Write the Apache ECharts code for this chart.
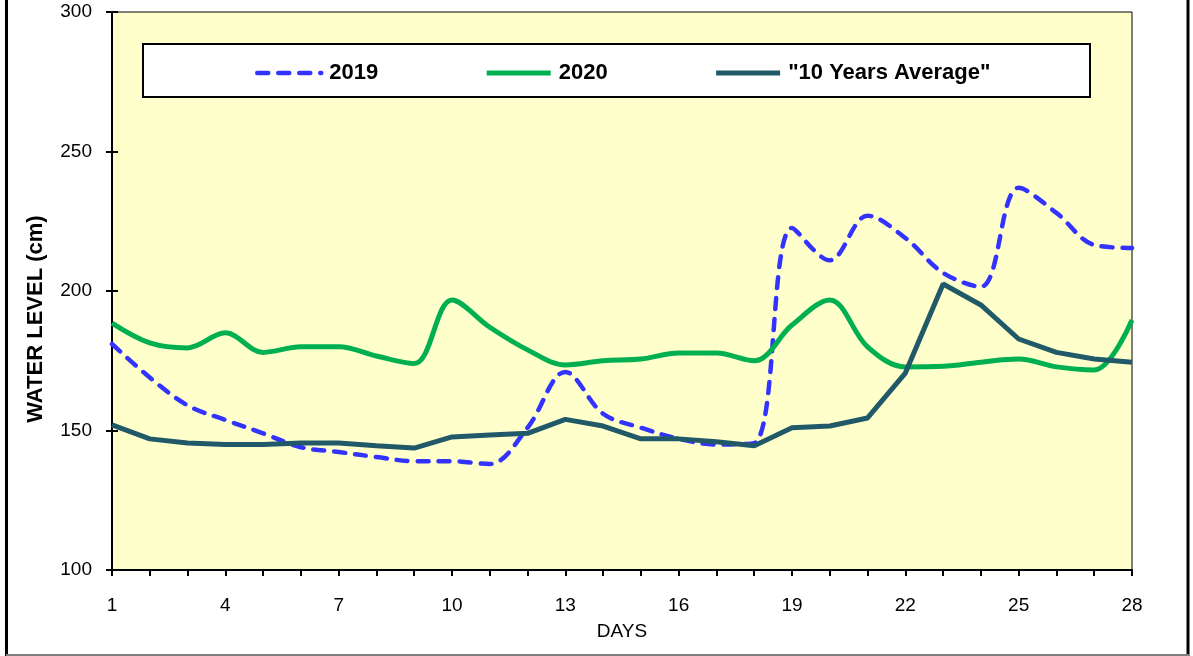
<!DOCTYPE html>
<html>
<head>
<meta charset="utf-8">
<script src="https://cdn.jsdelivr.net/npm/echarts@6/dist/echarts.min.js"></script>
<style>
  html, body { margin: 0; padding: 0; background: #fff; }
  #chart { width: 1193px; height: 656px; }
</style>
</head>
<body>
<div id="chart"></div>
<script>
// days 1..28
var days = [];
for (var d = 1; d <= 28; d++) days.push(String(d));

var y2019 = [181, 169, 159, 153.8, 149, 144, 142.3, 140.5, 139, 139, 138, 151, 171, 156, 151, 147, 145, 145.5,
  222.6, 211, 227, 219, 206.5, 201.5, 237, 228, 216.5, 215.4];
var y2020 = [188.5, 181.4, 179.6, 185, 178, 180, 180, 176.7, 174, 196.8, 187, 178.9, 173.5, 175, 175.6, 177.8, 177.8, 175,
  187.8, 196.8, 180, 172.8, 173, 174.5, 175.6, 172.8, 171.7, 189.6];
var yAvg = [152, 147, 145.5, 145, 145, 145.5, 145.5, 144.5, 143.7, 147.7, 148.4, 149, 154, 151.6, 147, 147, 146, 144.5,
  151, 151.6, 154.5, 170.6, 202.5, 195, 182.8, 178, 175.6, 174.5];

var chart = echarts.init(document.getElementById("chart"));
chart.setOption({
  animation: false,
  textStyle: { fontFamily: "Liberation Sans, Arial, sans-serif" },
  grid: {
    left: 112, right: 61, top: 12, bottom: 86,
    show: true,
    backgroundColor: "#FFFFCC",
    borderColor: "#000",
    borderWidth: 1
  },
  // legend box, y axis title, outer frame
  graphic: [
    {
      type: "rect", z: 3,
      shape: { x: 143, y: 44, width: 947, height: 53 },
      style: { fill: "#fff", stroke: "#000", lineWidth: 2 }
    },
    {
      type: "text", x: 36, y: 319, rotation: Math.PI / 2,
      style: {
        text: "WATER LEVEL (cm)", fill: "#000",
        font: "bold 22px Liberation Sans, Arial, sans-serif",
        align: "center", verticalAlign: "middle"
      }
    },
    { type: "line", shape: { x1: 6.5, y1: 0, x2: 6.5, y2: 656 }, style: { stroke: "#000", lineWidth: 3 } },
    { type: "line", shape: { x1: 1188, y1: 0, x2: 1188, y2: 656 }, style: { stroke: "#000", lineWidth: 3 } },
    { type: "line", shape: { x1: 6, y1: 655, x2: 1189, y2: 655 }, style: { stroke: "#808080", lineWidth: 2 } }
  ],
  legend: {
    left: 250, top: 57,
    itemWidth: 64, itemHeight: 14, itemGap: 106,
    itemStyle: { opacity: 0 },
    lineStyle: { width: "inherit" },
    textStyle: { fontSize: 22, fontWeight: "bold", color: "#000", padding: [0, 0, 0, 3] },
    data: ["2019", "2020", "\"10 Years Average\""]
  },
  xAxis: {
    type: "category",
    data: days,
    boundaryGap: false,
    name: "DAYS",
    nameLocation: "middle",
    nameGap: 52,
    nameTextStyle: { fontSize: 19, color: "#000" },
    axisLine: { lineStyle: { color: "#000", width: 2 } },
    axisTick: { interval: 0, length: 6, lineStyle: { color: "#000", width: 2 } },
    axisLabel: { interval: 2, fontSize: 19, color: "#000", margin: 26 },
    splitLine: { show: false }
  },
  yAxis: [
    {
      type: "value", min: 100, max: 300, interval: 50,
      axisLine: { show: true, lineStyle: { color: "#000", width: 2 } },
      axisTick: { show: true, length: 6, lineStyle: { color: "#000", width: 2 } },
      axisLabel: { fontSize: 19, color: "#000", margin: 20 },
      splitLine: { show: false }
    },
    {
      // inner half of the crossing ticks
      type: "value", min: 100, max: 300, interval: 50, position: "left",
      axisLine: { show: false },
      axisTick: { show: true, inside: true, length: 6, lineStyle: { color: "#000", width: 2 } },
      axisLabel: { show: false },
      splitLine: { show: false }
    }
  ],
  series: [
    {
      name: "2019", type: "line", data: y2019, smooth: 0.35, symbol: "none",
      lineStyle: { color: "#3333FF", width: 4.5, type: [11, 10], cap: "round" },
      itemStyle: { color: "#3333FF" }
    },
    {
      name: "2020", type: "line", data: y2020, smooth: 0.35, symbol: "none",
      lineStyle: { color: "#00B050", width: 5 },
      itemStyle: { color: "#00B050" }
    },
    {
      name: "\"10 Years Average\"", type: "line", data: yAvg, symbol: "none",
      lineStyle: { color: "#215968", width: 5 },
      itemStyle: { color: "#215968" }
    }
  ]
});
</script>
</body>
</html>
